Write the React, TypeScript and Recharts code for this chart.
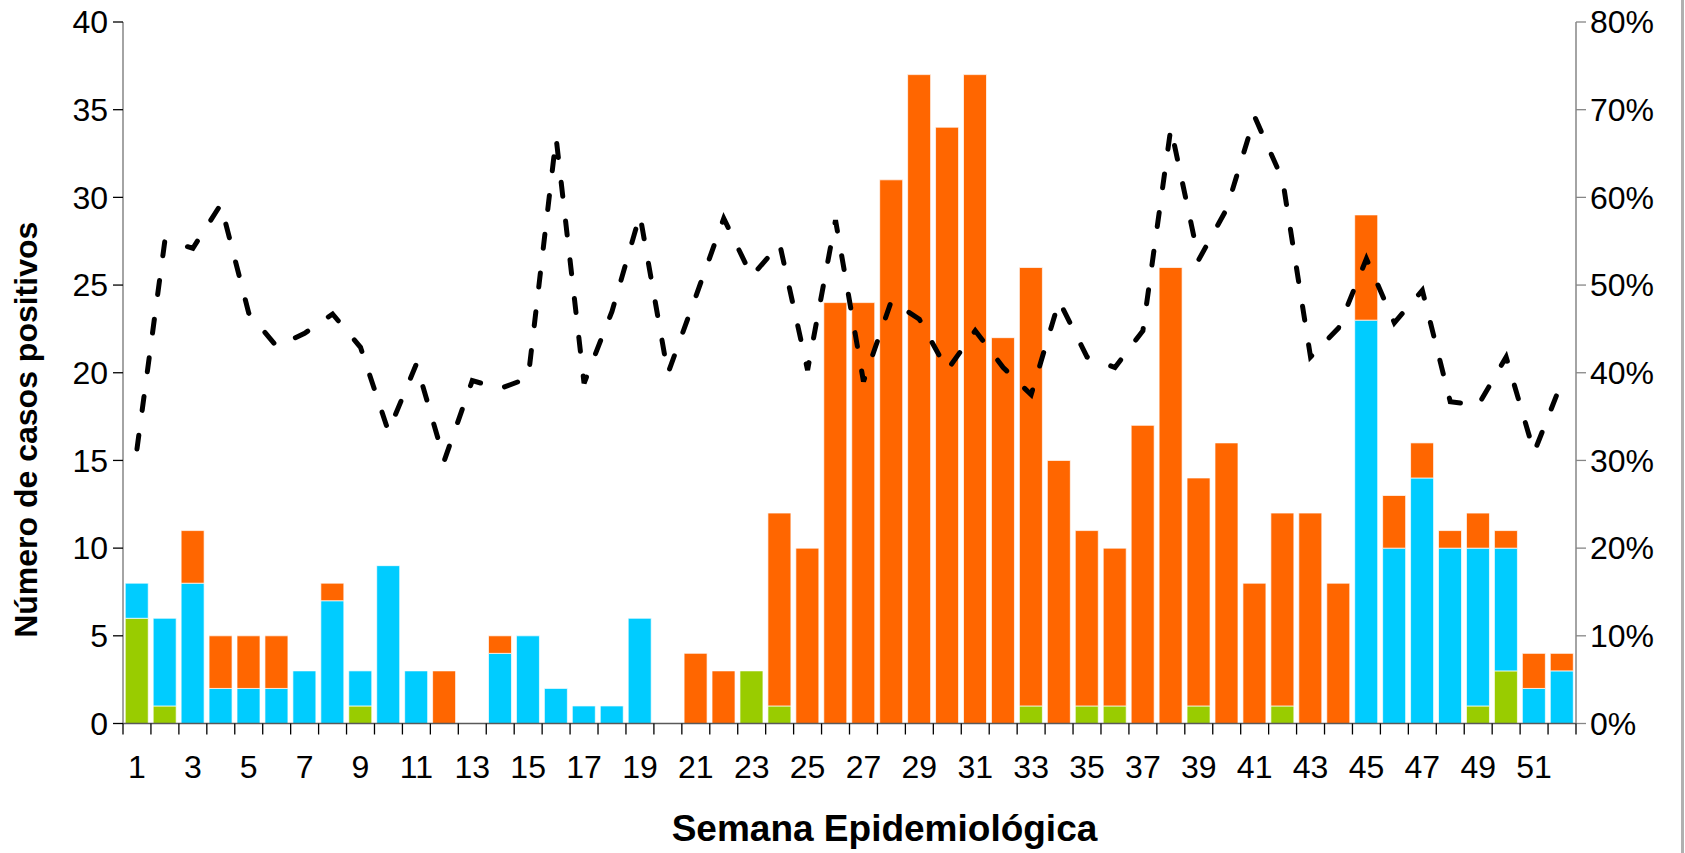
import React from 'react';
import { ComposedChart, Bar, Line, XAxis, YAxis, Label } from 'recharts';

// semanas epidemiológicas 1..52
const semanas = [
  1, 2, 3, 4, 5, 6, 7, 8, 9, 10, 11, 12, 13, 14, 15, 16, 17, 18, 19, 20, 21, 22, 23, 24, 25, 26,
  27, 28, 29, 30, 31, 32, 33, 34, 35, 36, 37, 38, 39, 40, 41, 42, 43, 44, 45, 46, 47, 48, 49, 50, 51, 52,
];

// casos positivos por semana (segmento inferior, medio y superior de cada barra)
const casosVerde = [
  6, 1, 0, 0, 0, 0, 0, 0, 1, 0, 0, 0, 0, 0, 0, 0, 0, 0, 0, 0, 0, 0, 3, 1, 0, 0,
  0, 0, 0, 0, 0, 0, 1, 0, 1, 1, 0, 0, 1, 0, 0, 1, 0, 0, 0, 0, 0, 0, 1, 3, 0, 0,
];
const casosAzul = [
  2, 5, 8, 2, 2, 2, 3, 7, 2, 9, 3, 0, 0, 4, 5, 2, 1, 1, 6, 0, 0, 0, 0, 0, 0, 0,
  0, 0, 0, 0, 0, 0, 0, 0, 0, 0, 0, 0, 0, 0, 0, 0, 0, 0, 23, 10, 14, 10, 9, 7, 2, 3,
];
const casosNaranja = [
  0, 0, 3, 3, 3, 3, 0, 1, 0, 0, 0, 3, 0, 1, 0, 0, 0, 0, 0, 0, 4, 3, 0, 11, 10, 24,
  24, 31, 37, 34, 37, 22, 25, 15, 10, 9, 17, 26, 13, 16, 8, 11, 12, 8, 6, 3, 2, 1, 2, 1, 2, 1,
];

// porcentaje (eje derecho)
const positividad = [
  31.3, 55.1, 54.2, 59.2, 46.8, 43.0, 44.5, 46.7, 42.9, 33.3, 41.0, 30.0, 39.1, 38.2, 39.4, 66.8,
  38.8, 47.0, 58.0, 39.9, 48.7, 57.6, 51.0, 54.7, 40.3, 57.4, 39.0, 48.2, 46.1, 40.3, 44.8, 40.6,
  37.5, 48.2, 41.8, 40.6, 44.8, 67.9, 52.9, 58.7, 69.2, 62.0, 41.8, 45.1, 53.0, 45.7, 49.4, 36.7,
  36.3, 41.8, 30.9, 39.0,
];

const ticksCasos = [0, 5, 10, 15, 20, 25, 30, 35, 40];
const ticksPct = [0, 10, 20, 30, 40, 50, 60, 70, 80];

const ANCHO = 1685;
const ALTO = 853;
const EJE_IZQ = 123;
const EJE_DER = 109;
const ALTO_EJE_X = 60;
const BANDA = (ANCHO - EJE_IZQ - EJE_DER) / semanas.length;
const FUENTE = '"Liberation Sans", Arial, sans-serif';

const datos = semanas.map((s, i) => ({
  semana: s,
  verde: casosVerde[i],
  azul: casosAzul[i],
  naranja: casosNaranja[i],
  pct: positividad[i],
}));

// marcas entre categorías + etiqueta solo en semanas impares
const TickSemana = (props: any) => {
  const { x, y, payload, index } = props;
  const ultimo = index === semanas.length - 1;
  return (
    <g>
      <line x1={x - BANDA / 2} x2={x - BANDA / 2} y1={y} y2={y + 11} stroke="#000" strokeWidth={1.3} />
      {ultimo && <line x1={x + BANDA / 2} x2={x + BANDA / 2} y1={y} y2={y + 11} stroke="#000" strokeWidth={1.3} />}
      {index % 2 === 0 && (
        <text x={x} y={y + 32} dy="0.71em" textAnchor="middle" fontSize={32} fill="#000" fontFamily={FUENTE}>
          {payload.value}
        </text>
      )}
    </g>
  );
};

const tickStyle = { fontSize: 32, fill: '#000', fontFamily: FUENTE };

export default function App() {
  return (
    <div style={{ position: 'absolute', left: 0, top: 0, width: ANCHO, height: ALTO, background: '#fff' }}>
      <ComposedChart
        width={ANCHO}
        height={ALTO}
        data={datos}
        margin={{ top: 22, right: 0, bottom: 129.5 - ALTO_EJE_X, left: 0 }}
        barCategoryGap="8%"
      >
        <XAxis
          dataKey="semana"
          interval={0}
          height={ALTO_EJE_X}
          tickSize={0}
          tickMargin={0}
          tickLine={false}
          tick={TickSemana}
          axisLine={{ stroke: '#595959', strokeWidth: 1.5 }}
        >
          <Label
            content={(p: any) => {
              const vb = p.viewBox;
              return (
                <text
                  x={vb.x + vb.width / 2 + 35}
                  y={vb.y + 108}
                  textAnchor="middle"
                  dominantBaseline="middle"
                  fontSize={37}
                  fontWeight="bold"
                  fontFamily={FUENTE}
                  fill="#000"
                >
                  Semana Epidemiológica
                </text>
              );
            }}
          />
        </XAxis>
        <YAxis
          yAxisId="casos"
          domain={[0, 40]}
          ticks={ticksCasos}
          width={EJE_IZQ}
          tickSize={10}
          tickMargin={5}
          axisLine={{ stroke: '#868686', strokeWidth: 1.5 }}
          tickLine={{ stroke: '#000', strokeWidth: 1.3 }}
          tick={tickStyle}
        >
          <Label
            content={(p: any) => {
              const vb = p.viewBox;
              const cx = vb.x + 29;
              const cy = vb.y + vb.height / 2 + 57;
              return (
                <text
                  x={cx}
                  y={cy}
                  transform={`rotate(-90 ${cx} ${cy})`}
                  textAnchor="middle"
                  dominantBaseline="middle"
                  fontSize={32}
                  fontWeight="bold"
                  fontFamily={FUENTE}
                  fill="#000"
                >
                  Número de casos positivos
                </text>
              );
            }}
          />
        </YAxis>
        <YAxis
          yAxisId="pct"
          orientation="right"
          domain={[0, 80]}
          ticks={ticksPct}
          width={EJE_DER}
          tickSize={10}
          tickMargin={4}
          tickFormatter={(v: number) => `${v}%`}
          axisLine={{ stroke: '#868686', strokeWidth: 1.5 }}
          tickLine={{ stroke: '#868686', strokeWidth: 1.3 }}
          tick={tickStyle}
        />
        <Bar yAxisId="casos" dataKey="verde" stackId="a" fill="#99CC00" stroke="#fff" strokeWidth={0.7} isAnimationActive={false} />
        <Bar yAxisId="casos" dataKey="azul" stackId="a" fill="#00CCFF" stroke="#fff" strokeWidth={0.7} isAnimationActive={false} />
        <Bar yAxisId="casos" dataKey="naranja" stackId="a" fill="#FF6600" stroke="#fff" strokeWidth={0.7} isAnimationActive={false} />
        <Line
          yAxisId="pct"
          dataKey="pct"
          type="linear"
          stroke="#000"
          strokeWidth={5}
          strokeDasharray="14 25"
          strokeLinecap="round"
          dot={false}
          activeDot={false}
          isAnimationActive={false}
        />
      </ComposedChart>
      <div style={{ position: 'absolute', left: 1681, top: 0, width: 3, height: ALTO, background: '#b0b0b0' }} />
    </div>
  );
}
